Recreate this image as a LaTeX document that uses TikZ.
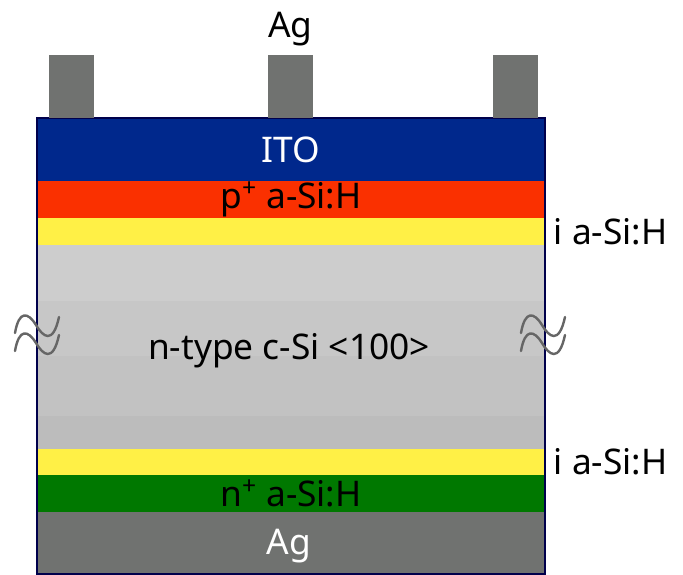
\documentclass[tikz,border=0pt]{standalone}
\usepackage{fontspec}
\setmainfont{Noto Sans}
\usetikzlibrary{positioning}
\definecolor{itoblue}{RGB}{0,40,140}
\definecolor{pred}{RGB}{250,48,0}
\definecolor{iyellow}{RGB}{255,240,70}
\definecolor{ngreen}{RGB}{0,120,0}
\definecolor{aggray}{RGB}{112,114,112}
\definecolor{siA}{RGB}{205,205,205}
\definecolor{siB}{RGB}{199,199,199}
\definecolor{siC}{RGB}{194,194,194}
\definecolor{siD}{RGB}{188,188,188}
\begin{document}
\begin{tikzpicture}[
  x=0.75pt, y=-0.75pt,
  node distance=0pt,
  every node/.style={font=\fontsize{26.5}{28}\selectfont},
  layer/.style={anchor=north west, inner sep=0pt, outer sep=0pt, minimum width=381pt, text=black},
  finger/.style={fill=aggray, inner sep=0pt, outer sep=0pt, minimum width=33.75pt, minimum height=47.25pt, anchor=south west},
  band/.style={fill=#1, inner sep=0pt, outer sep=0pt, minimum width=381pt, anchor=north west},
  squiggle/.style={draw=black!60, line width=1.8pt, line cap=round}
]
\useasboundingbox (0,0) rectangle (683,575);

% Layers, top to bottom
\node[layer, fill=itoblue, minimum height=47.25pt, text=white] (ito) at (37,118) {ITO};
\node[layer, fill=pred, minimum height=27.75pt, below=0pt of ito] (pl) {p\textsuperscript{+} a-Si:H};
\node[layer, fill=iyellow, minimum height=20.25pt, below=0pt of pl] (itop) {};
\node[band=siA, minimum height=42pt, below=0pt of itop] (sia) {};
\node[band=siB, minimum height=41.25pt, below=0pt of sia] (sib) {};
\node[band=siC, minimum height=45pt, below=0pt of sib] (sic) {};
\node[band=siD, minimum height=24.75pt, below=0pt of sic] (sid) {};
\node[layer, fill=iyellow, minimum height=19.5pt, below=0pt of sid] (ibot) {};
\node[layer, fill=ngreen, minimum height=27.75pt, below=0pt of ibot] (nl) {n\textsuperscript{+} a-Si:H};
\node[layer, fill=aggray, minimum height=46.5pt, below=0pt of nl] (agb) {};
\node (si) at (289,351) {n-type c-Si <100>};
\node[text=white] (agl) at (289,546) {Ag};

% Outline
\draw[black!70!blue, line width=0.8pt] (ito.north west) rectangle (agb.south east);

% Fingers
\node[finger] (fa) at (49,118) {};
\node[finger] (fb) at (268,118) {};
\node[finger] (fc) at (493,118) {};
\node[above=3pt of fb] (agt) {Ag};

% Side labels
\node[right=3pt of itop.east] (il) {i a-Si:H};
\node[right=3pt of ibot.east] (ir) {i a-Si:H};

% Break marks
\foreach \bx in {15,521} {
  \foreach \by in {333,351} {
    \draw[squiggle] (\bx,\by) .. controls (\bx+4,\by-23) and (\bx+13,\by-21) .. (\bx+21,\by-8)
      .. controls (\bx+28,\by+4) and (\bx+38,\by+12) .. (\bx+44,\by-16);
  }
}
\end{tikzpicture}
\end{document}
